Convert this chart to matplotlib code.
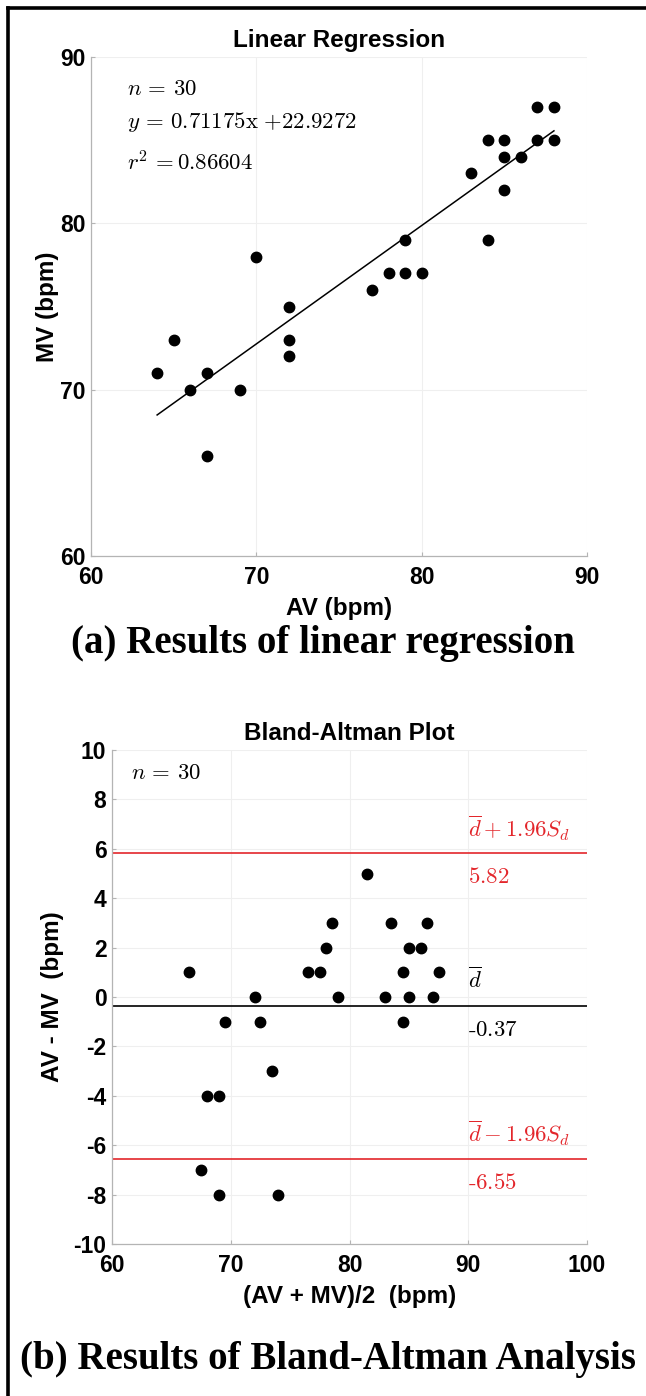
import matplotlib
matplotlib.use("Agg")
import matplotlib.pyplot as plt
from matplotlib.lines import Line2D
import numpy as np

# ---------------- data ----------------
av = [87, 88, 84, 85, 87, 88, 85, 86, 83, 85, 84, 79, 70, 78, 79, 80, 77,
      72, 65, 72, 72, 64, 67, 66, 69, 67]
mv = [87, 87, 85, 85, 85, 85, 84, 84, 83, 82, 79, 79, 78, 77, 77, 77, 76,
      75, 73, 73, 72, 71, 71, 70, 70, 66]
n_total = 30
slope = 0.71175
intercept = 22.9272
r2 = 0.86604
mean_d = -0.37
upper_loa = 5.82
lower_loa = -6.55

reg_xticks = [60, 70, 80, 90]
reg_yticks = [60, 70, 80, 90]
ba_xticks = [60, 70, 80, 90, 100]
ba_yticks = [-10, -8, -6, -4, -2, 0, 2, 4, 6, 8, 10]

# ---------------- style ----------------
plt.rcParams['mathtext.fontset'] = 'cm'
plt.rcParams['axes.unicode_minus'] = False
SANS = ['Liberation Sans', 'DejaVu Sans']
SERIF = ['Liberation Serif', 'DejaVu Serif']
RED = '#e3262b'
SPINE = '#b4b4b4'
GRID = '#efefef'
TICK_FS = 16.5
LABEL_FS = 17.5
TITLE_FS = 17.5
ANN_FS = 16.4
CAP_FS = 28

W, H = 646, 1396
fig = plt.figure(figsize=(W / 100, H / 100), dpi=100)


def style_axes(ax, xt, yt):
    ax.set_xticks(xt)
    ax.set_yticks(yt)
    ax.grid(True, color=GRID, linewidth=0.8)
    ax.set_axisbelow(True)
    for s in ['top', 'right']:
        ax.spines[s].set_visible(False)
    for s in ['left', 'bottom']:
        ax.spines[s].set_color(SPINE)
        ax.spines[s].set_linewidth(0.9)
    ax.tick_params(direction='in', length=3, width=0.8, color=SPINE,
                   labelsize=TICK_FS)
    ax.tick_params(axis='x', pad=7)
    ax.tick_params(axis='y', pad=4)
    for lab in ax.get_xticklabels() + ax.get_yticklabels():
        lab.set_fontweight('bold')
        lab.set_family(SANS)


def px_axes(l, r, t, b):
    return fig.add_axes([l / W, 1 - b / H, (r - l) / W, (b - t) / H])


# ---------------- (a) linear regression ----------------
ax1 = px_axes(91, 587, 57, 556)
ax1.plot(av, mv, 'o', color='black', markersize=7.5, zorder=3)
xl = np.array([min(av), max(av)])
ax1.plot(xl, slope * xl + intercept, color='black', linewidth=1.1, zorder=2)
ax1.set_xlim(60, 90)
ax1.set_ylim(60, 90)
style_axes(ax1, reg_xticks, reg_yticks)
ax1.set_title('Linear Regression', fontsize=TITLE_FS, fontweight='bold',
              family=SANS, pad=7)
ax1.set_xlabel('AV (bpm)', fontsize=LABEL_FS, fontweight='bold', family=SANS)
ax1.set_ylabel('MV (bpm)', fontsize=LABEL_FS, fontweight='bold', family=SANS)
ax1.xaxis.set_label_coords(0.5, -0.082)
ax1.yaxis.set_label_coords(-0.064, 0.5)

ax1.text(62.2, 88.1, r'$n\,{=}\,%d$' % n_total, fontsize=ANN_FS, va='center')
ax1.text(62.2, 86.1, r'$y\,{=}\,%.5f\mathrm{x}\ {+}%.4f$' % (slope, intercept),
         fontsize=ANN_FS, va='center')
ax1.text(62.2, 83.6, r'$r^2\,{=}%.5f$' % r2, fontsize=ANN_FS, va='center')

# ---------------- (b) Bland-Altman ----------------
ax2 = px_axes(112, 587, 750, 1244)
av_a = np.array(av, dtype=float)
mv_a = np.array(mv, dtype=float)
means = (av_a + mv_a) / 2
diffs = av_a - mv_a
ax2.plot(means, diffs, 'o', color='black', markersize=7.5, zorder=3)
ax2.axhline(upper_loa, color=RED, linewidth=1.2, zorder=2)
ax2.axhline(lower_loa, color=RED, linewidth=1.2, zorder=2)
ax2.axhline(mean_d, color='black', linewidth=1.2, zorder=2)
ax2.set_xlim(60, 100)
ax2.set_ylim(-10, 10)
style_axes(ax2, ba_xticks, ba_yticks)
ax2.set_title('Bland-Altman Plot', fontsize=TITLE_FS, fontweight='bold',
              family=SANS, pad=7)
ax2.set_xlabel('(AV + MV)/2  (bpm)', fontsize=LABEL_FS, fontweight='bold',
               family=SANS)
ax2.set_ylabel('AV - MV  (bpm)', fontsize=LABEL_FS, fontweight='bold',
               family=SANS)
ax2.xaxis.set_label_coords(0.5, -0.083)
ax2.yaxis.set_label_coords(-0.1, 0.5)

ax2.text(61.6, 9.07, r'$n\,{=}\,%d$' % n_total, fontsize=ANN_FS, va='center')
ax2.text(90.0, upper_loa + 1.0, r'$\overline{d} + 1.96S_d$', color=RED,
         fontsize=ANN_FS, va='center')
ax2.text(90.0, upper_loa - 0.93, r'$%.2f$' % upper_loa, color=RED,
         fontsize=ANN_FS, va='center')
ax2.text(90.0, mean_d + 1.05, r'$\overline{d}$', color='black',
         fontsize=ANN_FS, va='center')
ax2.text(90.0, mean_d - 0.94, r'$\text{-}%.2f$' % abs(mean_d), color='black',
         fontsize=ANN_FS, va='center')
ax2.text(90.0, lower_loa + 1.03, r'$\overline{d} - 1.96S_d$', color=RED,
         fontsize=ANN_FS, va='center')
ax2.text(90.0, lower_loa - 0.94, r'$\text{-}%.2f$' % abs(lower_loa), color=RED,
         fontsize=ANN_FS, va='center')

# ---------------- captions ----------------
fig.text(323 / W, 1 - 643 / H, '(a) Results of linear regression',
         family=SERIF, fontweight='bold', fontsize=CAP_FS, ha='center',
         va='center')
fig.text(328 / W, 1 - 1360 / H, '(b) Results of Bland-Altman Analysis',
         family=SERIF, fontweight='bold', fontsize=CAP_FS, ha='center',
         va='center')

# ---------------- frame (left + top) ----------------
fig.add_artist(Line2D([7.5 / W, 7.5 / W], [0, 1 - 7.5 / H],
                      transform=fig.transFigure, color='black', linewidth=2.6,
                      solid_capstyle='projecting'))
fig.add_artist(Line2D([7.5 / W, 1], [1 - 7.5 / H, 1 - 7.5 / H],
                      transform=fig.transFigure, color='black', linewidth=2.6,
                      solid_capstyle='projecting'))

fig.savefig('out.png', dpi=100)
